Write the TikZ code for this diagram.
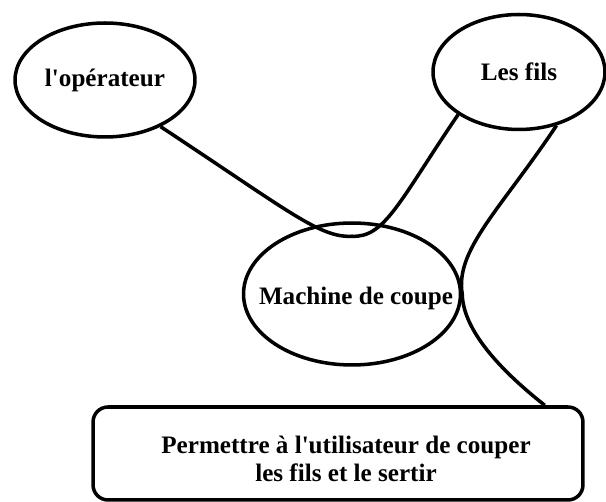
\documentclass[tikz,border=0pt]{standalone}
\usepackage{fontspec}
\setmainfont{Liberation Serif}
\usetikzlibrary{shapes.geometric}

\begin{document}
\begin{tikzpicture}[x=0.02cm, y=-0.02cm, line width=2pt,
        font=\bfseries\fontsize{14.3}{16}\selectfont,
        bulle/.style={ellipse, draw, inner sep=0pt},
        cadre/.style={draw, rounded corners=0.3cm, inner sep=0pt}]
        \useasboundingbox (0,0) rectangle (606,502);

        % Les bulles
        \node[bulle, minimum width=3.6cm, minimum height=2.28cm,
              label=center:{l\textquotesingle opérateur}] (op) at (105,80) {};
        \node[bulle, minimum width=3.44cm, minimum height=2.3cm,
              label=center:{Les fils}] (fils) at (519,72) {};
        \node[bulle, minimum width=4.34cm, minimum height=2.84cm,
              label={[xshift=0.08cm, yshift=-0.08cm]center:{Machine de coupe}}] (mach) at (352,294) {};

        % Le but
        \node[cadre, minimum width=9.8cm, minimum height=1.86cm,
              label={[xshift=0.16cm, yshift=-0.11cm, align=center]center:{Permettre à l\textquotesingle utilisateur de couper\\les fils et le sertir}}] (but) at (338,453.5) {};

        % Corne du haut
        \draw (op.-40) .. controls (290,212) and (320,238) .. ([yshift=-0.3cm]mach.north)
              .. controls (385,238) and (400,200) .. (fils.-145);

        % Corne de droite
        \draw (fils.-55) .. controls (500,210) and (455,250) .. (mach.east)
              .. controls (463,330) and (500,370) .. ([xshift=-0.8cm]but.north east);
    \end{tikzpicture}
\end{document}
